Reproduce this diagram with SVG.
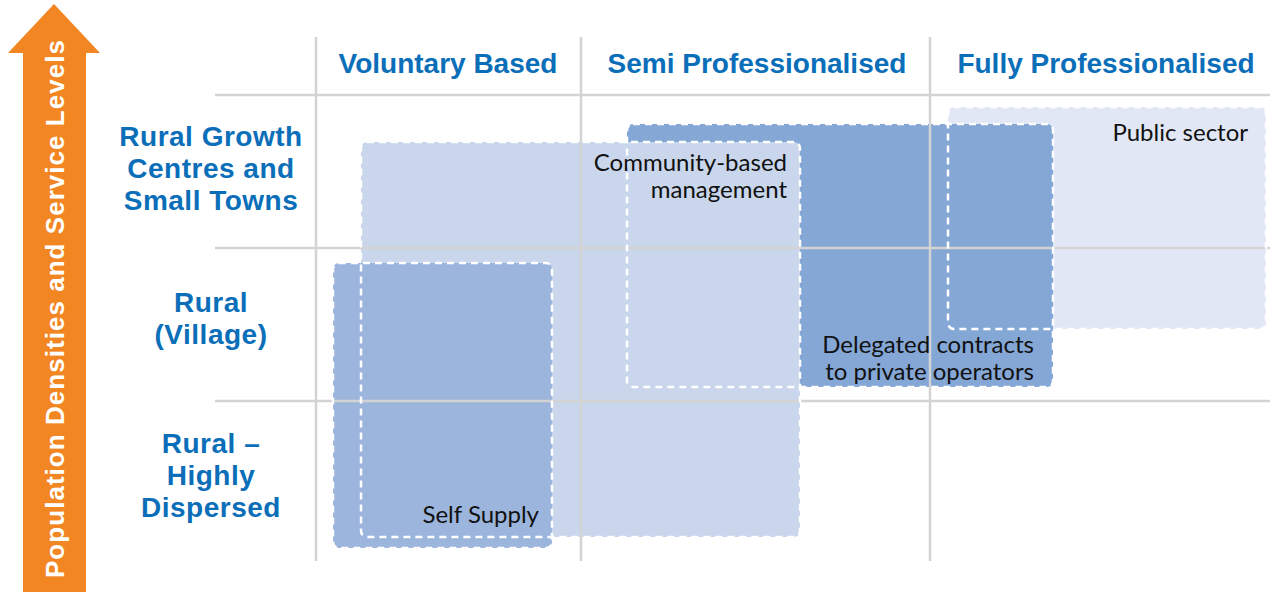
<svg xmlns="http://www.w3.org/2000/svg" width="1270" height="592" viewBox="0 0 1270 592">
<style>
.grid{stroke:#D3D3D3;stroke-width:2.5;fill:none}
.hdr{font-family:"Liberation Sans",Arial,sans-serif;font-weight:bold;font-size:28px;fill:#0B6EB9;text-anchor:middle}
.row{font-family:"Liberation Sans",Arial,sans-serif;font-weight:bold;font-size:28px;letter-spacing:0.5px;fill:#0B6EB9;text-anchor:middle}
.lbl{font-family:Lato,"Liberation Sans",sans-serif;font-size:24px;fill:#111;text-anchor:end}
.edge{fill:none;stroke:#fff;stroke-width:2.5;stroke-dasharray:7 5}
</style>
<rect width="1270" height="592" fill="#fff"/>
<g id="arrow">
<path d="M54,4 L100,53 L86,53 L86,592 L23,592 L23,53 L8,53 Z" fill="#F28622"/>
<text transform="translate(64,309) rotate(-90)" text-anchor="middle" textLength="538" lengthAdjust="spacing" style="font-family:'Liberation Sans',Arial,sans-serif;font-weight:bold;font-size:26px;fill:#fff">Population Densities and Service Levels</text>
</g>
<g id="fills">
<rect id="public-sector-fill" x="948" y="107" width="318" height="222" rx="6" fill="#E1E7F5"/>
<rect id="delegated-fill" x="627" y="124" width="426" height="263" rx="6" fill="#84A7D6"/>
<rect id="community-fill" x="361" y="142" width="439" height="395" rx="6" fill="#C9D6EC"/>
<rect id="self-supply-fill" x="333" y="263" width="219" height="285" rx="6" fill="#9CB5DC"/>
</g>
<g id="grid">
<line class="grid" x1="316" y1="37" x2="316" y2="561"/>
<line class="grid" x1="581" y1="37" x2="581" y2="561"/>
<line class="grid" x1="930" y1="37" x2="930" y2="561"/>
<line class="grid" x1="215" y1="95" x2="1270" y2="95"/>
<line class="grid" x1="215" y1="248" x2="1270" y2="248"/>
<line class="grid" x1="215" y1="401" x2="1270" y2="401"/>
</g>
<g id="edges">
<rect class="edge" x="948" y="107" width="318" height="222" rx="6"/>
<rect class="edge" x="627" y="124" width="426" height="263" rx="6"/>
<rect class="edge" x="361" y="142" width="439" height="395" rx="6"/>
<rect class="edge" x="333" y="263" width="219" height="285" rx="6"/>
</g>
<g id="public-sector"><text class="lbl" x="1248" y="141">Public sector</text></g>
<g id="delegated-contracts"><text class="lbl"><tspan x="1034" y="353">Delegated contracts</tspan><tspan x="1034" y="380">to private operators</tspan></text></g>
<g id="community-based"><text class="lbl"><tspan x="787" y="171">Community-based</tspan><tspan x="787" y="198">management</tspan></text></g>
<g id="self-supply"><text class="lbl" x="539" y="523">Self Supply</text></g>
<g id="col-headers">
<text class="hdr" x="448" y="73">Voluntary Based</text>
<text class="hdr" x="757" y="73">Semi Professionalised</text>
<text class="hdr" x="1106" y="73">Fully Professionalised</text>
</g>
<g id="row-headers">
<text class="row"><tspan x="211" y="146">Rural Growth</tspan><tspan x="211" y="178">Centres and</tspan><tspan x="211" y="210">Small Towns</tspan></text>
<text class="row"><tspan x="211" y="312">Rural</tspan><tspan x="211" y="344">(Village)</tspan></text>
<text class="row"><tspan x="211" y="453">Rural –</tspan><tspan x="211" y="485">Highly</tspan><tspan x="211" y="517">Dispersed</tspan></text>
</g>
</svg>
